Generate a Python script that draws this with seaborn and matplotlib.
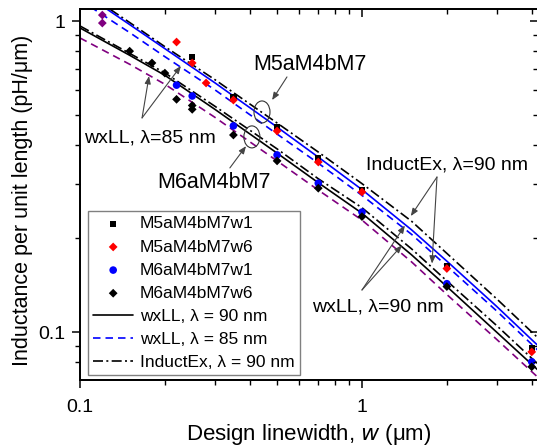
import matplotlib
matplotlib.use("Agg")
import matplotlib.pyplot as plt
import seaborn as sns
import pandas as pd
from matplotlib.patches import Ellipse
from matplotlib.transforms import ScaledTranslation
from matplotlib.ticker import LogLocator, FuncFormatter, NullFormatter, FixedLocator

# ---------------- data ----------------
w_line = [0.1, 0.15, 0.2, 0.3, 0.5, 0.7, 1.0, 1.5, 2.0, 3.0, 4.2]
L_m5_wxll90 = [1.25, 0.974, 0.815, 0.634, 0.456, 0.365, 0.287, 0.213, 0.169, 0.121, 0.0906]
L_m5_wxll85 = [1.168, 0.918, 0.768, 0.602, 0.433, 0.349, 0.275, 0.206, 0.163, 0.117, 0.0875]
L_m5_indx90 = [1.268, 0.989, 0.827, 0.649, 0.470, 0.379, 0.300, 0.227, 0.179, 0.128, 0.0959]
L_m6_wxll90 = [0.950, 0.776, 0.669, 0.521, 0.376, 0.302, 0.241, 0.177, 0.140, 0.100, 0.0756]
L_m6_wxll85 = [0.882, 0.726, 0.626, 0.491, 0.355, 0.286, 0.229, 0.168, 0.132, 0.0948, 0.0716]
L_m6_indx90 = [0.964, 0.787, 0.681, 0.533, 0.388, 0.311, 0.251, 0.185, 0.146, 0.105, 0.0790]

w_m5w1 = [0.25, 0.35, 0.5, 0.7, 1.0, 2.0, 4.0]
L_m5w1 = [0.766, 0.57, 0.456, 0.363, 0.286, 0.163, 0.089]
w_m5w6 = [0.22, 0.25, 0.28, 0.35, 0.5, 0.7, 1.0, 2.0, 4.0]
L_m5w6 = [0.856, 0.733, 0.632, 0.557, 0.443, 0.352, 0.282, 0.160, 0.0863]
w_m6w1 = [0.22, 0.25, 0.35, 0.5, 0.7, 1.0, 2.0, 4.0]
L_m6w1 = [0.622, 0.574, 0.46, 0.371, 0.301, 0.243, 0.143, 0.0802]
w_m6w6 = [0.15, 0.18, 0.2, 0.22, 0.25, 0.25, 0.35, 0.5, 0.7, 1.0, 2.0, 4.0]
L_m6w6 = [0.80, 0.733, 0.68, 0.56, 0.535, 0.52, 0.43, 0.355, 0.29, 0.235, 0.14, 0.0773]
w_extra = [0.12, 0.12]
L_extra = [1.045, 0.985]

x_ticks = [0.1, 1]
y_ticks = [0.1, 1]

# ---------------- style ----------------
sns.set_theme(style="white")
plt.rcParams["font.family"] = ["Liberation Sans", "DejaVu Sans"]
plt.rcParams.update({
    "axes.linewidth": 1.1, "axes.edgecolor": "black", "text.color": "black",
    "axes.labelcolor": "black", "xtick.color": "black", "ytick.color": "black",
})

BLUE = "#0000ff"
RED = "#ff0000"
PURPLE = "#800080"

fig = plt.figure(figsize=(5.37, 4.47), dpi=100)
ax = fig.add_axes([80 / 537, 1 - 380 / 447, 458 / 537, 371 / 447])
ax.set_xscale("log")
ax.set_yscale("log")

lw = 1.2
dash = (0, (4.5, 3.0))
dashdot = (0, (6.0, 2.0, 1.2, 2.0))

def line(L, color, ls, label=None):
    df = pd.DataFrame({"w": w_line, "L": L})
    sns.lineplot(data=df, x="w", y="L", ax=ax, color=color, linestyle=ls,
                 linewidth=lw, label=label, legend=False, zorder=2)

line(L_m5_indx90, "black", dashdot)
line(L_m5_wxll90, BLUE, "-")
line(L_m5_wxll85, BLUE, dash, "wxLL, \u03bb = 85 nm")
line(L_m6_indx90, "black", dashdot, "InductEx, \u03bb = 90 nm")
line(L_m6_wxll90, "black", "-", "wxLL, \u03bb = 90 nm")
line(L_m6_wxll85, PURPLE, dash)

def pts(w, L, color, marker, s, label=None):
    sns.scatterplot(x=w, y=L, ax=ax, color=color, marker=marker, s=s,
                    edgecolor="none", linewidth=0, label=label,
                    legend=False, zorder=3)

pts(w_m5w1, L_m5w1, "black", "s", 20, "M5aM4bM7w1")
pts(w_m5w6, L_m5w6, RED, "D", 20, "M5aM4bM7w6")
pts(w_m6w1, L_m6w1, BLUE, "o", 30, "M6aM4bM7w1")
pts(w_m6w6, L_m6w6, "black", "D", 20, "M6aM4bM7w6")
pts(w_extra, L_extra, PURPLE, "D", 20)

xlim = (0.1, 4.21)
ylim = (0.0701, 1.093)
ax.set_xlim(*xlim)
ax.set_ylim(*ylim)

fmt = FuncFormatter(lambda v, p: f"{v:g}")
for axis, tk in ((ax.xaxis, x_ticks), (ax.yaxis, y_ticks)):
    axis.set_major_locator(FixedLocator(tk))
    axis.set_major_formatter(fmt)
    axis.set_minor_locator(LogLocator(base=10, subs=range(2, 10), numticks=20))
    axis.set_minor_formatter(NullFormatter())

ax.tick_params(which="major", direction="out", length=6, width=1.1, labelsize=14)
ax.tick_params(which="minor", direction="out", length=3.5, width=1.0)
ax.tick_params(axis="x", which="major", pad=7.5)
ax.tick_params(axis="y", which="major", pad=4.5)

# mirrored ticks (inward) on top and right
ax_top = ax.twiny()
ax_top.set_xscale("log")
ax_top.set_xlim(*xlim)
ax_right = ax.twinx()
ax_right.set_yscale("log")
ax_right.set_ylim(*ylim)
for tax, axis, tk in ((ax_top, ax_top.xaxis, x_ticks), (ax_right, ax_right.yaxis, y_ticks)):
    axis.set_major_locator(FixedLocator(tk))
    axis.set_minor_locator(LogLocator(base=10, subs=range(2, 10), numticks=20))
    axis.set_major_formatter(NullFormatter())
    axis.set_minor_formatter(NullFormatter())
    tax.tick_params(which="major", direction="in", length=6, width=1.1)
    tax.tick_params(which="minor", direction="in", length=3.5, width=1.0)

ax.set_xlabel("Design linewidth, $\\mathit{w}$ (\u03bcm)", fontsize=16)
ax.set_ylabel("Inductance per unit length (pH/\u03bcm)", fontsize=15.5)
ax.xaxis.set_label_coords(0.5, -0.112)
ax.yaxis.set_label_coords(-0.103, 0.485)

# ---------------- annotations ----------------
akw = dict(arrowstyle="-|>,head_length=0.45,head_width=0.18", color="#444444",
           lw=0.8, shrinkA=0, shrinkB=0, mutation_scale=10)

def ell(x, y):
    tr = fig.dpi_scale_trans + ScaledTranslation(x, y, ax.transData)
    ax.add_patch(Ellipse((0, 0), 0.16, 0.22, transform=tr, fill=False,
                         edgecolor="#333333", lw=0.8, zorder=4))

ell(0.442, 0.510)
ell(0.407, 0.424)

ax.text(0.654, 0.696, "M5aM4bM7", fontsize=15.5, ha="center", va="baseline")
ax.annotate("", xy=(0.48, 0.557), xytext=(0.542, 0.661), arrowprops=akw)
ax.text(0.299, 0.290, "M6aM4bM7", fontsize=15.5, ha="center", va="baseline")
ax.annotate("", xy=(0.388, 0.396), xytext=(0.340, 0.337), arrowprops=akw)

ax.text(0.177, 0.408, "wxLL, \u03bb=85 nm", fontsize=14, ha="center", va="baseline")
ax.annotate("", xy=(0.1757, 0.665), xytext=(0.166, 0.488), arrowprops=akw)
ax.annotate("", xy=(0.228, 0.717), xytext=(0.166, 0.488), arrowprops=akw)

ax.text(2.0, 0.332, "InductEx, \u03bb=90 nm", fontsize=14, ha="center", va="baseline")
ax.annotate("", xy=(1.49, 0.236), xytext=(1.845, 0.315), arrowprops=akw)
ax.annotate("", xy=(1.772, 0.166), xytext=(1.845, 0.315), arrowprops=akw)

ax.text(1.139, 0.116, "wxLL, \u03bb=90 nm", fontsize=14, ha="center", va="baseline")
ax.annotate("", xy=(1.42, 0.22), xytext=(1.0, 0.1365), arrowprops=akw)
ax.annotate("", xy=(1.386, 0.19), xytext=(1.0, 0.1365), arrowprops=akw)

# ---------------- legend ----------------
handles, labels = ax.get_legend_handles_labels()
order = ["M5aM4bM7w1", "M5aM4bM7w6", "M6aM4bM7w1", "M6aM4bM7w6",
         "wxLL, \u03bb = 90 nm", "wxLL, \u03bb = 85 nm", "InductEx, \u03bb = 90 nm"]
hmap = dict(zip(labels, handles))
leg = ax.legend([hmap[k] for k in order], order, loc="upper left",
                bbox_to_anchor=(88 / 537, 1 - 211 / 447), bbox_transform=fig.transFigure,
                borderaxespad=0, fontsize=12.5, frameon=True, fancybox=False,
                edgecolor="#808080", framealpha=1, borderpad=0.3,
                labelspacing=0.46, handlelength=2.3, handletextpad=0.4,
                scatterpoints=1, numpoints=1)
leg.get_frame().set_linewidth(1.0)
leg.set_zorder(5)

fig.savefig("out.png", dpi=100)
